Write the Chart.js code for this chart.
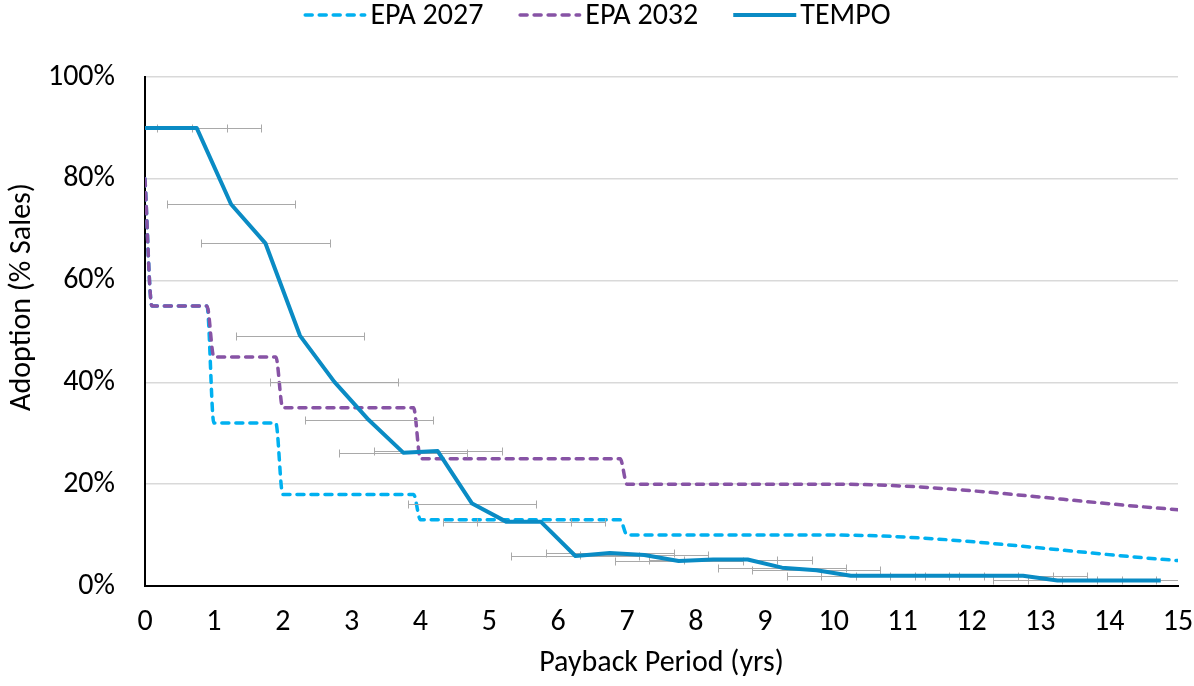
<!DOCTYPE html>
<html><head><meta charset="utf-8">
<script src="https://cdn.jsdelivr.net/npm/chart.js@4"></script>
<style>html,body{margin:0;padding:0;background:#fff;overflow:hidden;} #wrap{width:1194px;height:686px;}</style>
</head><body><div id="wrap"><canvas id="c" width="1194" height="686"></canvas></div>
<script>
// ---------- data ----------
const seriesLabels = ['EPA 2027', 'EPA 2032', 'TEMPO'];
const xTitle = 'Payback Period (yrs)';
const yTitle = 'Adoption (% Sales)';

const epa2027X = [0, 0.1, 0.9, 1.0, 1.9, 2.0, 3.9, 4.0, 6.9, 7.0, 10, 15];
const epa2027Y = [80, 55, 55, 32, 32, 18, 18, 13, 13, 10, 10, 5];

const epa2032X = [0, 0.1, 0.9, 1.0, 1.9, 2.0, 3.9, 4.0, 6.9, 7.0, 10, 15];
const epa2032Y = [80, 55, 55, 45, 45, 35, 35, 25, 25, 20, 20, 15];

const tempoX = [0, 0.75, 1.25, 1.75, 2.25, 2.75, 3.25, 3.75, 4.25, 4.75,
                5.25, 5.75, 6.25, 6.75, 7.25, 7.75, 8.25, 8.75, 9.25, 9.75,
                10.25, 10.75, 11.25, 11.75, 12.25, 12.75, 13.25, 13.75, 14.25, 14.75];
const tempoY = [90, 90, 75, 67.3, 49.2, 40.1, 32.6, 26.2, 26.5, 16.2,
                12.6, 12.6, 5.9, 6.5, 6.1, 4.9, 5.2, 5.2, 3.6, 3.1,
                2.0, 2.0, 2.0, 2.0, 2.0, 2.0, 1.1, 1.1, 1.1, 1.1];
// horizontal error-bar extents (yrs)
const tempoErrLow = [0.18, 0.68, 0.32, 0.82, 1.32, 1.82, 2.32, 2.82, 3.32, 3.82,
                     4.32, 4.82, 5.32, 5.82, 6.32, 6.82, 7.32, 7.82, 8.32, 8.82,
                     9.32, 9.82, 10.32, 10.82, 11.32, 11.82, 12.32, 12.82, 13.32, 13.82];
const tempoErrHigh = [1.19, 1.68, 2.18, 2.68, 3.18, 3.68, 4.18, 4.68, 5.18, 5.68,
                      6.18, 6.68, 7.18, 7.68, 8.18, 8.68, 9.18, 9.68, 10.18, 10.68,
                      11.18, 11.68, 12.18, 12.68, 13.18, 13.68, 14.18, 14.68, 15.18, 15.68];

// ---------- styling ----------
const FONT_FAMILY = 'Carlito, Lato, "Open Sans", sans-serif';
const FONT_SIZE = 30;
const pts = (xs, ys) => xs.map((x, i) => ({x: x, y: ys[i]}));

const errorBarsPlugin = {
  id: 'errorBars',
  beforeDatasetDraw(chart, args) {
    if (args.index !== 2) return;
    const {ctx, chartArea, scales: {x, y}} = chart;
    ctx.save();
    ctx.beginPath();
    ctx.rect(chartArea.left, chartArea.top - 10, chartArea.right - chartArea.left, chartArea.bottom - chartArea.top + 20);
    ctx.clip();
    ctx.strokeStyle = '#A9A9A9';
    ctx.lineWidth = 1;
    const cap = 4;
    tempoY.forEach((v, i) => {
      const py = Math.round(y.getPixelForValue(v)) + 0.5;
      const x0 = Math.round(x.getPixelForValue(tempoErrLow[i])) + 0.5;
      const x1 = Math.round(x.getPixelForValue(tempoErrHigh[i])) + 0.5;
      ctx.beginPath();
      ctx.moveTo(x0, py); ctx.lineTo(x1, py);
      ctx.moveTo(x0, py - cap); ctx.lineTo(x0, py + cap);
      ctx.moveTo(x1, py - cap); ctx.lineTo(x1, py + cap);
      ctx.stroke();
    });
    ctx.restore();
  }
};

const legendPlugin = {
  id: 'topLegend',
  afterDraw(chart) {
    const ctx = chart.ctx;
    const sample = 63, gap = 4, itemGap = 35, cy = 15;
    ctx.save();
    ctx.font = FONT_SIZE + 'px ' + FONT_FAMILY;
    const dsets = chart.data.datasets;
    const widths = dsets.map(d => ctx.measureText(d.label).width);
    let total = widths.reduce((a, w) => a + sample + gap + w, 0) + itemGap * (dsets.length - 1);
    let x = (chart.width - total) / 2;
    dsets.forEach((d, i) => {
      ctx.save();
      ctx.strokeStyle = d.borderColor;
      ctx.lineWidth = d.borderWidth;
      ctx.lineCap = d.borderCapStyle || 'butt';
      ctx.setLineDash(d.borderDash || []);
      ctx.beginPath();
      const inset = d.borderDash ? d.borderWidth / 2 : 0;
      ctx.moveTo(x + inset, cy); ctx.lineTo(x + sample - inset, cy);
      ctx.stroke();
      ctx.restore();
      ctx.fillStyle = '#000';
      ctx.textBaseline = 'middle';
      ctx.textAlign = 'left';
      ctx.fillText(d.label, x + sample + gap, cy + 1);
      x += sample + gap + widths[i] + itemGap;
    });
    ctx.restore();
  }
};

const yTitlePlugin = {
  id: 'yTitle',
  afterDraw(chart) {
    const ctx = chart.ctx;
    ctx.save();
    ctx.translate(22, 297);
    ctx.rotate(-Math.PI / 2);
    ctx.font = FONT_SIZE + 'px ' + FONT_FAMILY;
    ctx.fillStyle = '#000';
    ctx.textAlign = 'center';
    ctx.textBaseline = 'middle';
    ctx.fillText(yTitle, 0, 0);
    ctx.restore();
  }
};

new Chart(document.getElementById('c'), {
  type: 'line',
  data: {
    datasets: [
      {label: seriesLabels[0], data: pts(epa2027X, epa2027Y), borderColor: '#00B0F0', borderWidth: 3.5,
       borderDash: [7, 7], borderCapStyle: 'round', borderJoinStyle: 'round', pointRadius: 0,
       cubicInterpolationMode: 'monotone', fill: false, order: 2},
      {label: seriesLabels[1], data: pts(epa2032X, epa2032Y), borderColor: '#8753A5', borderWidth: 3.5,
       borderDash: [7, 7], borderCapStyle: 'round', borderJoinStyle: 'round', pointRadius: 0,
       cubicInterpolationMode: 'monotone', fill: false, order: 1},
      {label: seriesLabels[2], data: pts(tempoX, tempoY), borderColor: '#0A8BC4', borderWidth: 4,
       borderJoinStyle: 'round', tension: 0, pointRadius: 0, fill: false, order: 0}
    ]
  },
  options: {
    responsive: false,
    animation: false,
    devicePixelRatio: 1,
    layout: {padding: {top: 77, right: 16, bottom: 0, left: 0}},
    plugins: {legend: {display: false}, tooltip: {enabled: false}},
    scales: {
      x: {
        type: 'linear', min: 0, max: 15,
        ticks: {stepSize: 1, color: '#000', padding: 18, font: {family: FONT_FAMILY, size: FONT_SIZE}},
        grid: {display: false, drawTicks: false},
        border: {display: true, color: '#000', width: 2},
        title: {display: true, text: xTitle, color: '#000', font: {family: FONT_FAMILY, size: FONT_SIZE},
                padding: {top: 0, bottom: 5}},
        afterFit(s) { s.height = 100; s.paddingRight = 0; s.paddingLeft = 0; }
      },
      y: {
        min: 0, max: 100,
        ticks: {stepSize: 20, color: '#000', padding: 30, font: {family: FONT_FAMILY, size: FONT_SIZE},
                callback: v => v + '%'},
        grid: {color: '#D9D9D9', lineWidth: 1.5, drawTicks: false},
        border: {display: true, color: '#000', width: 2},
        afterFit(s) { s.width = 145; }
      }
    }
  },
  plugins: [errorBarsPlugin, legendPlugin, yTitlePlugin]
});
</script>
</body></html>
